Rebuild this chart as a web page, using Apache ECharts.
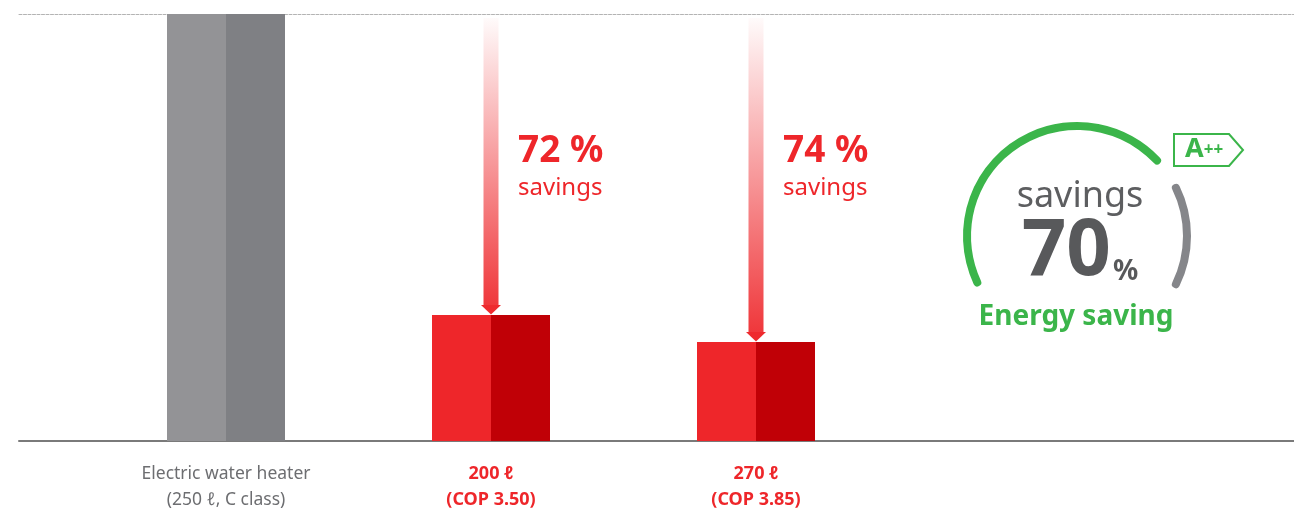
<!DOCTYPE html>
<html>
<head>
<meta charset="utf-8">
<script src="https://cdn.jsdelivr.net/npm/echarts@6/dist/echarts.min.js"></script>
<style>
  html, body { margin: 0; padding: 0; background: #fff; }
  #chart { width: 1294px; height: 511px; }
</style>
</head>
<body>
<div id="chart"></div>
<script>
// Energy use of each water heater, relative to the electric heater (= 100)
const categories = ['Electric water heater\n(250 ℓ, C class)', '200 ℓ\n(COP 3.50)', '270 ℓ\n(COP 3.85)'];
const energyUse = [100, 29.5, 23.2];
const savingsPct = [null, 72, 74];
const overallSaving = 70;
const savingsWord = 'savings';
const energyLabel = 'Energy saving';
const classLabel = 'A';
const classPlus = '++';

const FONT = '"Noto Sans", "Open Sans", sans-serif';
const GREY_L = '#939396', GREY_R = '#7f8084';
const RED_L = '#ee262a', RED_R = '#c00006';
const RED_TXT = '#ee262a';
const GREEN = '#3bb54a';
const DARK = '#58595b';

function splitFill(a, b) {
  return new echarts.graphic.LinearGradient(0, 0, 1, 0, [
    { offset: 0, color: a }, { offset: 0.5, color: a },
    { offset: 0.5, color: b }, { offset: 1, color: b }
  ]);
}

const barData = energyUse.map((v, i) => ({
  value: v,
  itemStyle: { color: i === 0 ? splitFill(GREY_L, GREY_R) : splitFill(RED_L, RED_R) }
}));

const arrowData = [];
energyUse.forEach((v, i) => { if (savingsPct[i] != null) arrowData.push([i, v, savingsPct[i]]); });

const chart = echarts.init(document.getElementById('chart'), null, { renderer: 'canvas' });

chart.setOption({
  backgroundColor: '#fff',
  animation: false,
  textStyle: { fontFamily: FONT },
  grid: [
    { left: 19, right: 0, top: 14, bottom: 70 },
    { left: 93.5, width: 795, top: 14, bottom: 70 }
  ],
  xAxis: [
    { // dashed reference line at full scale
      gridIndex: 0, type: 'category', position: 'top', data: categories,
      axisLine: { show: true, onZero: false, lineStyle: { color: '#b3b3b3', width: 1, type: [3, 1.5] } },
      axisTick: { show: false }, axisLabel: { show: false }
    },
    { // solid baseline
      gridIndex: 0, type: 'category', position: 'bottom', data: categories,
      axisLine: { show: true, onZero: false, lineStyle: { color: '#7a7a7a', width: 2 } },
      axisTick: { show: false }, axisLabel: { show: false }
    },
    {
      gridIndex: 1, type: 'category', data: categories,
      axisLine: { show: false }, axisTick: { show: false },
      axisLabel: {
        margin: 20, interval: 0,
        formatter: (val, idx) => val.split('\n').map(l => '{' + (idx === 0 ? 'g' : 'r') + '|' + l + '}').join('\n'),
        rich: {
          g: { fontFamily: FONT, fontSize: 17.5, color: '#6d6e71', lineHeight: 26 },
          r: { fontFamily: FONT, fontSize: 18, fontWeight: 'bold', color: RED_TXT, lineHeight: 26 }
        }
      }
    }
  ],
  yAxis: [
    { gridIndex: 0, type: 'value', min: 0, max: 100, show: false },
    { gridIndex: 1, type: 'value', min: 0, max: 100, show: false }
  ],
  series: [
    {
      type: 'bar', xAxisIndex: 2, yAxisIndex: 1, barWidth: 118,
      data: barData, silent: true
    },
    {
      type: 'custom', xAxisIndex: 2, yAxisIndex: 1, silent: true,
      data: arrowData,
      renderItem: function (params, api) {
        const idx = api.value(0), val = api.value(1), pct = api.value(2);
        const top = api.coord([idx, 100]);
        const end = api.coord([idx, val]);
        const x = end[0];
        const y0 = top[1] + 4, y1 = end[1] - 9;
        return {
          type: 'group',
          children: [
            {
              type: 'rect',
              shape: { x: x - 7.5, y: y0, width: 15, height: y1 - y0 },
              style: {
                fill: new echarts.graphic.LinearGradient(0, 0, 0, 1, [
                  { offset: 0, color: 'rgba(238,38,42,0.02)' },
                  { offset: 1, color: 'rgba(238,38,42,0.92)' }
                ])
              }
            },
            {
              type: 'polygon',
              shape: { points: [[x - 10, y1 - 1], [x + 10, y1 - 1], [x, end[1] - 0.5]] },
              style: { fill: '#ee2a2e' }
            },
            {
              type: 'text',
              style: {
                x: x + 27, y: top[1] + 137, text: pct + ' %',
                font: 'bold 37px ' + FONT, fill: RED_TXT,
                verticalAlign: 'middle', align: 'left'
              }
            },
            {
              type: 'text',
              style: {
                x: x + 27, y: top[1] + 174, text: savingsWord,
                font: '24px ' + FONT, fill: RED_TXT,
                verticalAlign: 'middle', align: 'left'
              }
            }
          ]
        };
      }
    },
    {
      type: 'gauge',
      center: [1077, 236], radius: 114,
      startAngle: 205, endAngle: -26, min: 0, max: 100,
      progress: { show: true, width: 8, roundCap: true, itemStyle: { color: GREEN } },
      axisLine: { roundCap: true, lineStyle: { width: 8, color: [[0.775, 'rgba(0,0,0,0)'], [1, '#85868a']] } },
      pointer: { show: false }, anchor: { show: false },
      axisTick: { show: false }, splitLine: { show: false }, axisLabel: { show: false },
      title: { offsetCenter: [3, -39], fontFamily: FONT, fontSize: 36, color: '#5d5e60' },
      detail: {
        offsetCenter: [3, 16], valueAnimation: false,
        formatter: v => '{v|' + v + '}{p|%}',
        rich: {
          v: { fontFamily: FONT, fontSize: 78, fontWeight: 'bold', color: DARK, verticalAlign: 'bottom', lineHeight: 80 },
          p: { fontFamily: FONT, fontSize: 28, color: DARK, verticalAlign: 'bottom', lineHeight: 70, padding: [0, 0, 6, 2] }
        }
      },
      data: [{ value: overallSaving, name: savingsWord }]
    }
  ],
  graphic: [
    {
      type: 'text', x: 1076, y: 317,
      style: { text: energyLabel, font: 'bold 28px ' + FONT, fill: GREEN, align: 'center', verticalAlign: 'middle' }
    },
    {
      type: 'polygon', silent: true,
      shape: { points: [[1174, 134], [1229, 134], [1243, 150], [1229, 166], [1174, 166]] },
      style: { fill: '#fff', stroke: GREEN, lineWidth: 2 }
    },
    {
      type: 'text', x: 1185, y: 150,
      style: {
        text: '{a|' + classLabel + '}{s|' + classPlus + '}',
        verticalAlign: 'middle',
        rich: {
          a: { font: 'bold 27px ' + FONT, fill: GREEN, color: GREEN, verticalAlign: 'top', lineHeight: 28 },
          s: { font: 'bold 17px ' + FONT, fill: GREEN, color: GREEN, verticalAlign: 'middle', lineHeight: 22 }
        }
      }
    }
  ]
});
</script>
</body>
</html>
